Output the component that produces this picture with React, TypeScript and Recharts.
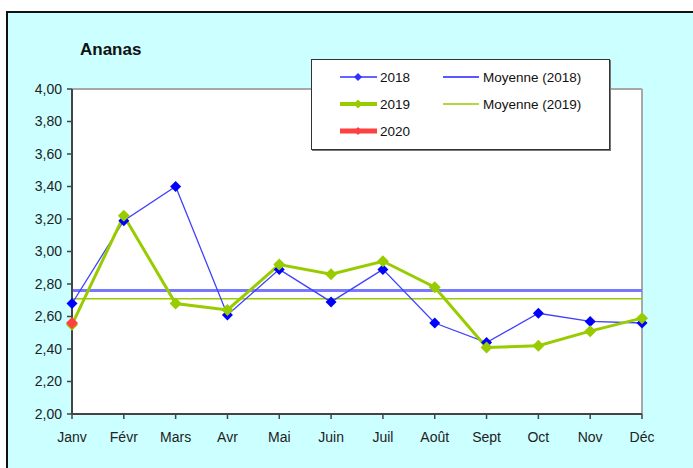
import {
  LineChart, Line, XAxis, YAxis, CartesianGrid, ReferenceLine, Legend,
} from 'recharts'

const months = ['Janv', 'Févr', 'Mars', 'Avr', 'Mai', 'Juin', 'Juil', 'Août', 'Sept', 'Oct', 'Nov', 'Déc']
const v2018 = [2.68, 3.19, 3.40, 2.61, 2.89, 2.69, 2.89, 2.56, 2.44, 2.62, 2.57, 2.56]
const v2019 = [2.55, 3.22, 2.68, 2.64, 2.92, 2.86, 2.94, 2.78, 2.41, 2.42, 2.51, 2.59]
const v2020: (number | null)[] = [2.56, null, null, null, null, null, null, null, null, null, null, null]
const mean2018 = 2.76
const mean2019 = 2.71
const yTicks = [2, 2.2, 2.4, 2.6, 2.8, 3, 3.2, 3.4, 3.6, 3.8, 4]

const BLUE = '#0000ff'
const GREEN = '#99cc00'
const RED = '#ff4040'
const FONT = '"Liberation Sans", Arial, sans-serif'

const data = months.map((m, i) => ({ month: m, y2018: v2018[i], y2019: v2019[i], y2020: v2020[i] }))

const fmtY = (v: number) => v.toFixed(2).replace('.', ',')

function diamond(r: number, fill: string) {
  return (p: any) => {
    const { cx, cy, index } = p
    if (cx == null || cy == null || p.value == null) return <g key={`d-${index}`} />
    return <path key={`d-${index}`} d={`M${cx},${cy - r}L${cx + r},${cy}L${cx},${cy + r}L${cx - r},${cy}Z`} fill={fill} />
  }
}

function LegendBox() {
  const txt = { fontFamily: FONT, fontSize: 13.5, fill: '#111' }
  const row = (y: number, color: string, w: number, r: number, label: string) => (
    <g>
      <line x1={28} x2={65} y1={y} y2={y} stroke={color} strokeWidth={w} />
      <path d={`M46,${y - r}L${46 + r},${y}L46,${y + r}L${46 - r},${y}Z`} fill={color} />
      <text x={68} y={y + 5} {...txt}>{label}</text>
    </g>
  )
  return (
    <div style={{ width: 299, height: 91, background: '#fff', border: '1px solid #333', boxShadow: '1px 1px 0 #777', boxSizing: 'border-box' }}>
      <svg width={297} height={89} style={{ display: 'block' }}>
        {row(17, '#3030ff', 1.5, 4, '2018')}
        {row(44, GREEN, 4, 4.5, '2019')}
        {row(71, RED, 5, 4, '2020')}
        <line x1={131} x2={167} y1={17} y2={17} stroke="#2020ff" strokeWidth={1.5} />
        <text x={171} y={22} {...txt}>Moyenne (2018)</text>
        <line x1={131} x2={167} y1={44} y2={44} stroke={GREEN} strokeWidth={1.5} />
        <text x={171} y={49} {...txt}>Moyenne (2019)</text>
      </svg>
    </div>
  )
}

export default function App() {
  return (
    <div style={{ position: 'absolute', left: 0, top: 0, width: 693, height: 468, overflow: 'hidden', background: '#fff' }}>
      <div style={{
        position: 'absolute', left: 6, top: 11, width: 720, height: 480,
        background: '#ccffff', borderLeft: '2px solid #111', borderTop: '2px solid #111',
      }} />
      <div style={{ position: 'absolute', left: 80, top: 41, fontFamily: FONT, fontWeight: 700, fontSize: 17, lineHeight: '17px', color: '#111' }}>
        Ananas
      </div>
      <div style={{ position: 'absolute', left: 0, top: 0 }}>
        <LineChart width={693} height={468} data={data} margin={{ top: 89, right: 51, bottom: 14, left: 0 }}>
          <CartesianGrid horizontal={false} vertical={false} fill="#fff" />
          <XAxis
            dataKey="month" interval={0} padding={{ left: 0, right: 0 }} height={40}
            axisLine={{ stroke: '#444', strokeWidth: 2 }} tickLine={{ stroke: '#444', strokeWidth: 1.5 }}
            tickSize={5} tickMargin={13}
            tick={{ fontFamily: FONT, fontSize: 14, fill: '#222' }}
          />
          <YAxis
            domain={[2, 4]} ticks={yTicks} tickFormatter={fmtY} width={72} interval={0}
            axisLine={{ stroke: '#444', strokeWidth: 2 }} tickLine={{ stroke: '#444', strokeWidth: 1.5 }}
            tickSize={5} tickMargin={5}
            tick={{ fontFamily: FONT, fontSize: 14, fill: '#222' }}
          />
          <ReferenceLine y={4} stroke="#a8a8a8" strokeWidth={2} />
          <ReferenceLine x="Déc" stroke="#a8a8a8" strokeWidth={2} />
          <ReferenceLine y={mean2018} stroke="#7878ff" strokeWidth={3} />
          <ReferenceLine y={mean2019} stroke={GREEN} strokeWidth={1.5} />
          <Legend
            layout="vertical" align="center" verticalAlign="middle"
            wrapperStyle={{ position: 'absolute', left: 311, top: 59, width: 299, height: 91 }}
            content={() => <LegendBox />}
          />
          <Line dataKey="y2018" stroke="#4040ff" strokeWidth={1.3} dot={diamond(5.5, BLUE)} activeDot={false} isAnimationActive={false} />
          <Line dataKey="y2019" stroke={GREEN} strokeWidth={3} dot={diamond(6, GREEN)} activeDot={false} isAnimationActive={false} />
          <Line dataKey="y2020" stroke={RED} strokeWidth={3} dot={diamond(6, RED)} activeDot={false} isAnimationActive={false} connectNulls={false} />
        </LineChart>
      </div>
    </div>
  )
}
